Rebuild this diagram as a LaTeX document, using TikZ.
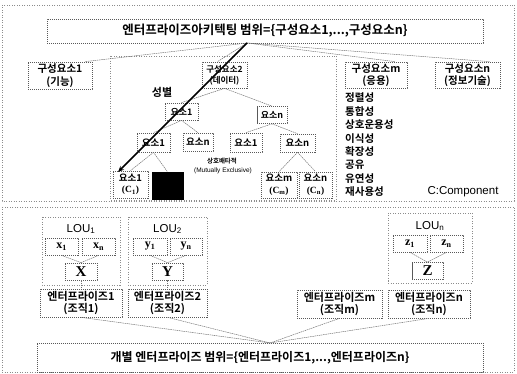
\documentclass[tikz,border=0pt]{standalone}
\usepackage{fontspec}
\usetikzlibrary{calc,arrows.meta}
\newfontfamily\kr{Noto Sans CJK KR}[BoldFont={Noto Sans CJK KR Bold}]
\newfontfamily\arl{Liberation Sans}
\newfontfamily\tnr{Liberation Serif}
\tikzset{
  box/.style={draw=black!65, dash pattern=on 1.2pt off 0.8pt, line width=0.7pt, inner sep=0.5pt, align=center, font=\kr\bfseries\fontsize{10.5}{12.5}\selectfont},
  region/.style={draw=black!45, dash pattern=on 1pt off 1.5pt, line width=0.5pt},
  link/.style={draw=black!55, dash pattern=on 1.5pt off 0.7pt, line width=0.5pt},
  lbl/.style={inner sep=0pt, align=center}
}
\begin{document}
\begin{tikzpicture}[x=1pt,y=-1pt]
\useasboundingbox (0,0) rectangle (517,374);
% regions
\draw[region] (2,5) rectangle (514,201);
\draw[region] (110,56) rectangle (336,200);
\draw[region] (2,207) rectangle (514,372);
\draw[region] (42,217) rectangle (120,285);
\draw[region] (128,217) rectangle (207,285);
\draw[region] (388,213) rectangle (472,283);
% top part
\node[box, minimum width=436pt, minimum height=24pt, font=\kr\bfseries\fontsize{12.5}{14}\selectfont] (t) at (265,31) {엔터프라이즈아키텍팅 범위=\{구성요소1,...,구성요소n\}};
\node[box, minimum width=64pt, minimum height=27pt] (c1) at (60,75.5) {구성요소1\\(기능)};
\node[box, minimum width=45pt, minimum height=26pt, font=\kr\bfseries\fontsize{8.5}{11}\selectfont] (c2) at (224.5,75) {구성요소2\\(데이터)};
\node[box, minimum width=62pt, minimum height=26pt] (cm) at (376,75) {구성요소m\\(응용)};
\node[box, minimum width=65pt, minimum height=26pt] (cn) at (467.5,75) {구성요소n\\(정보기술)};
\coordinate (tp) at (247,43);
\draw[link] (tp) -- ($(c1.north)+(25,0)$);
\draw[link] (tp) -- ($(c2.north)+(-7,0)$);
\draw[link] (tp) -- ($(cm.north)+(19,0)$);
\draw[link] (tp) -- ($(cn.north)+(22,0)$);
% tree
\node[box, minimum width=33pt, minimum height=17pt, font=\kr\bfseries\fontsize{9}{11}\selectfont] (e1) at (181.5,111.5) {요소1};
\node[box, minimum width=30pt, minimum height=17pt, font=\kr\bfseries\fontsize{9}{11}\selectfont] (en) at (272,115) {요소n};
\node[box, minimum width=33pt, minimum height=19pt, font=\kr\bfseries\fontsize{9.5}{11}\selectfont] (e11) at (153.5,142.5) {요소1};
\node[box, minimum width=30pt, minimum height=18pt, font=\kr\bfseries\fontsize{9.5}{11}\selectfont] (e1n) at (198,142) {요소n};
\node[box, minimum width=32pt, minimum height=19pt, font=\kr\bfseries\fontsize{9.5}{11}\selectfont] (en1) at (246,142.5) {요소1};
\node[box, minimum width=35pt, minimum height=18pt, font=\kr\bfseries\fontsize{9.5}{11}\selectfont] (enn) at (297.5,143) {요소n};
\node[box, minimum width=35pt, minimum height=27pt, font=\kr\bfseries\fontsize{9.5}{11.5}\selectfont] (k1) at (130.5,184.5) {요소1\\{\tnr\bfseries (C\textsubscript{1})}};
\node[draw=black, fill=black, minimum width=31pt, minimum height=27pt, inner sep=0pt] (blk) at (167.5,185.5) {};
\node[box, minimum width=36pt, minimum height=26pt, font=\kr\bfseries\fontsize{9.5}{11.5}\selectfont] (km) at (279,185) {요소m\\{\tnr\bfseries (C\textsubscript{m})}};
\node[box, minimum width=33pt, minimum height=26pt, font=\kr\bfseries\fontsize{9.5}{11.5}\selectfont] (kn) at (315.5,185) {요소n\\{\tnr\bfseries (C\textsubscript{n})}};
\draw[link] (c2.south) -- (e1.north);
\draw[link] (c2.south) -- (en.north);
\draw[link] (e1.south) -- (e11.north);
\draw[link] (e1.south) -- (e1n.north);
\draw[link] (en.south) -- (en1.north);
\draw[link] (en.south) -- (enn.north);
\draw[link] (e11.south) -- (k1.north);
\draw[link] (e11.south) -- (blk.north);
\draw[link] (enn.south) -- (km.north);
\draw[link] (enn.south) -- (kn.north);
\node[lbl, font=\kr\bfseries\fontsize{11}{13}\selectfont] (sb) at (162,92) {성별};
\node[lbl, font=\kr\bfseries\fontsize{6.5}{8}\selectfont] (me1) at (222,161.5) {상호배타적};
\node[lbl, font=\arl\fontsize{6.5}{8}\selectfont] (me2) at (223,171) {(Mutually Exclusive)};
\coordinate (ah) at (118,172);
\draw[line width=1.6pt, -{Stealth[length=6pt,width=5pt]}] (tp) -- (ah);
% list
\node[lbl, anchor=north west, align=left, font=\kr\bfseries\fontsize{10.5}{13.4}\selectfont] (lst) at (345,93) {정렬성\\통합성\\상호운용성\\이식성\\확장성\\공유\\유연성\\재사용성};
\node[lbl, font=\arl\fontsize{11.5}{13}\selectfont] (cc) at (463,192) {C:Component};
% bottom part
\node[lbl, font=\arl\fontsize{11.5}{13}\selectfont] (lou1) at (81,229) {LOU\textsubscript{1}};
\node[lbl, font=\arl\fontsize{11.5}{13}\selectfont] (lou2) at (167.5,229) {LOU\textsubscript{2}};
\node[lbl, font=\arl\fontsize{11.5}{13}\selectfont] (loun) at (430,226) {LOU\textsubscript{n}};
\tikzset{vb/.style={box, font=\tnr\bfseries\fontsize{12}{14}\selectfont, minimum height=17pt}}
\node[vb, minimum width=33pt] (x1) at (61.5,246.5) {x\textsubscript{1}};
\node[vb, minimum width=33pt] (xn) at (98.5,246.5) {x\textsubscript{n}};
\node[vb, minimum width=32pt, font=\tnr\bfseries\fontsize{15}{16}\selectfont] (X) at (81,271.5) {X};
\node[vb, minimum width=34pt] (y1) at (150,246.5) {y\textsubscript{1}};
\node[vb, minimum width=32pt] (yn) at (186,246.5) {y\textsubscript{n}};
\node[vb, minimum width=31pt, font=\tnr\bfseries\fontsize{15}{16}\selectfont] (Y) at (167.5,271.5) {Y};
\node[vb, minimum width=34pt] (z1) at (410,243.5) {z\textsubscript{1}};
\node[vb, minimum width=33pt] (zn) at (446.5,243.5) {z\textsubscript{n}};
\node[vb, minimum width=31pt, font=\tnr\bfseries\fontsize{15}{16}\selectfont] (Z) at (427.5,271) {Z};
\tikzset{eb/.style={box, minimum height=28pt, font=\kr\bfseries\fontsize{11}{12.5}\selectfont}}
\node[eb, minimum width=82pt] (n1) at (81,303) {엔터프라이즈1\\(조직1)};
\node[eb, minimum width=79pt] (n2) at (167.5,303) {엔터프라이즈2\\(조직2)};
\node[eb, minimum width=85pt] (nm) at (339.5,304) {엔터프라이즈m\\(조직m)};
\node[eb, minimum width=82pt] (nn) at (429,304) {엔터프라이즈n\\(조직n)};
\node[box, minimum width=446pt, minimum height=29pt, font=\kr\bfseries\fontsize{12}{14}\selectfont] (bt) at (260,357.5) {개별 엔터프라이즈 범위=\{엔터프라이즈1,...,엔터프라이즈n\}};
\draw[link] (x1.south) -- (X.north);
\draw[link] (xn.south) -- (X.north);
\draw[link] (y1.south) -- (Y.north);
\draw[link] (yn.south) -- (Y.north);
\draw[link] (z1.south) -- (Z.north);
\draw[link] (zn.south) -- (Z.north);
\draw[link] (X.south) -- (n1.north);
\draw[link] (Y.south) -- (n2.north);
\coordinate (bp) at (270,343);
\draw[link] (n1.south) -- (bp);
\draw[link] (n2.south) -- (bp);
\draw[link] (nm.south) -- (bp);
\draw[link] (nn.south) -- (bp);
\end{tikzpicture}
\end{document}
